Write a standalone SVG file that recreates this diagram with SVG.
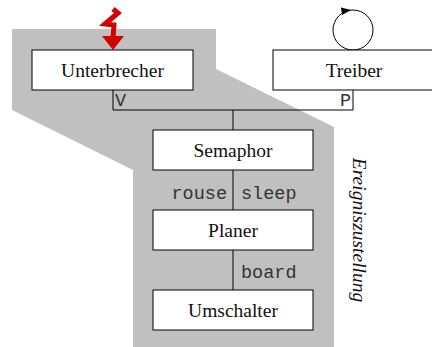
<svg xmlns="http://www.w3.org/2000/svg" width="432" height="347" viewBox="0 0 432 347">
<style>
.box{fill:#fff;stroke:#000;stroke-width:1}
.lbl{font-size:19.5px;fill:#111;text-anchor:middle}
.mono{font-size:18.5px;fill:#333}
.ln{fill:none;stroke:#000;stroke-width:1}
</style>
<rect width="432" height="347" fill="#fff"/>
<g id="region">
<polygon points="12,29 216,29 216,69 334,127 334,347 133,347 133,170 12,110" fill="#c0c0c0"/>
<text class="lbl" font-family="'Liberation Serif','DejaVu Serif',serif" font-style="italic" transform="translate(353,230) rotate(90)">Ereigniszustellung</text>
</g>
<g id="connectors" font-family="'Liberation Mono','DejaVu Sans Mono',monospace">
<polyline class="ln" points="113,90 113,110 353,110 353,90"/>
<line class="ln" x1="233" y1="110" x2="233" y2="130"/>
<line class="ln" x1="233" y1="170" x2="233" y2="210"/>
<line class="ln" x1="233" y1="250" x2="233" y2="290"/>
<text class="mono" x="115" y="106">V</text>
<text class="mono" x="351" y="106" text-anchor="end">P</text>
<text class="mono" x="227" y="199" text-anchor="end">rouse</text>
<text class="mono" x="241" y="199">sleep</text>
<text class="mono" x="241" y="278">board</text>
</g>
<g id="interrupt">
<polyline points="113,9 118,13 105,24 114,25 113,38" fill="none" stroke="#d40000" stroke-width="5" stroke-linejoin="miter"/>
<polygon points="102,36 124,36 113,50" fill="#d40000"/>
</g>
<g id="loop">
<circle cx="353" cy="30" r="20" class="ln"/>
<polygon points="351,10 341,7.5 342,15" fill="#000"/>
</g>
<g id="nodes" font-family="'Liberation Serif','DejaVu Serif',serif">
<g id="unterbrecher">
<rect class="box" x="32" y="50" width="161" height="40"/>
<text class="lbl" x="112.5" y="77">Unterbrecher</text>
</g>
<g id="treiber">
<rect class="box" x="273" y="50" width="170" height="40"/>
<text class="lbl" x="354" y="77">Treiber</text>
</g>
<g id="semaphor">
<rect class="box" x="153" y="130" width="160" height="40"/>
<text class="lbl" x="233" y="157">Semaphor</text>
</g>
<g id="planer">
<rect class="box" x="153" y="210" width="160" height="40"/>
<text class="lbl" x="233" y="237">Planer</text>
</g>
<g id="umschalter">
<rect class="box" x="153" y="290" width="160" height="40"/>
<text class="lbl" x="233" y="317">Umschalter</text>
</g>
</g>
</svg>
